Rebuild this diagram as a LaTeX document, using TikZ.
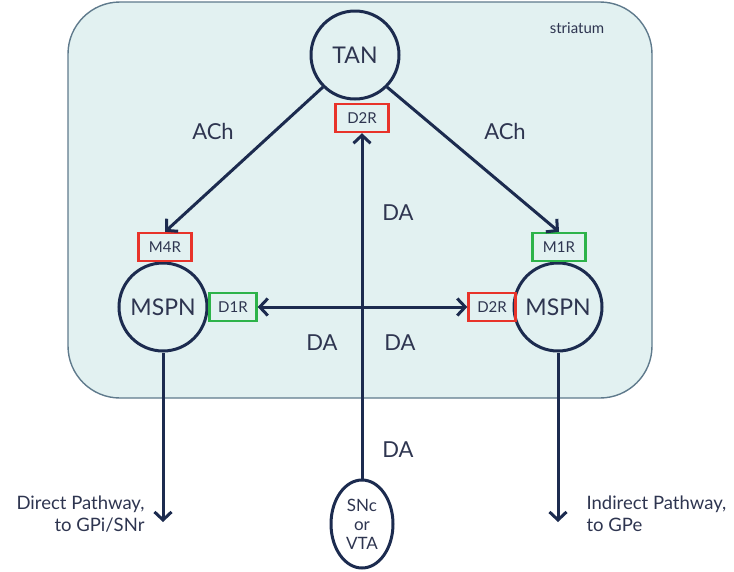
\documentclass[tikz,border=0pt]{standalone}
\usepackage{fontspec}
\setmainfont{Lato}
\usetikzlibrary{arrows.meta,shapes.geometric}
\definecolor{navy}{HTML}{1C2B4F}
\definecolor{boxfill}{HTML}{E2F1F1}
\definecolor{boxedge}{HTML}{5F7A8C}
\definecolor{rred}{HTML}{E8332A}
\definecolor{rgreen}{HTML}{2DB34A}
\definecolor{txt}{HTML}{2E3550}
\tikzset{
  neuron/.style={circle,draw=navy,line width=3pt,minimum size=88pt,inner sep=0pt,text=txt,font=\fontsize{23}{24}\selectfont},
  rec/.style={draw=#1,line width=2.4pt,minimum width=53pt,minimum height=28pt,inner sep=0pt,text=txt,font=\fontsize{15}{16}\selectfont},
  conn/.style={draw=navy,line width=3pt,-{Straight Barb[length=8pt,width=17pt,line width=3pt]}},
  lbl/.style={text=txt,font=\fontsize{22}{24}\selectfont},
  side/.style={text=txt,font=\fontsize{18.5}{22}\selectfont,align=#1}
}
\begin{document}
\begin{tikzpicture}[x=1pt,y=-1pt]
\useasboundingbox (0,0) rectangle (734,571);
\node[draw=boxedge,fill=boxfill,line width=1.4pt,rounded corners=52pt,minimum width=584pt,minimum height=396pt,inner sep=0pt] (str) at (360,200) {};
\node[text=txt,font=\fontsize{15}{16}\selectfont] (strl) at (577,28) {striatum};
\node[neuron] (tan) at (355,55) {TAN};
\node[neuron] (ml) at (163,307) {MSPN};
\node[neuron] (mr) at (558,307) {MSPN};
\node[ellipse,draw=navy,line width=3pt,minimum width=62pt,minimum height=88pt,inner sep=0pt,text=txt,align=center,font=\fontsize{17}{19}\selectfont] (snc) at (362,524) {SNc\\or\\VTA};
\node[rec=rred] (d2t) at (362,118) {D2R};
\node[rec=rred] (m4) at (165,247) {M4R};
\node[rec=rgreen,minimum width=47pt] (d1) at (233,307) {D1R};
\node[rec=rgreen] (m1) at (559,247) {M1R};
\node[rec=rred,minimum width=47pt] (d2r) at (492,307) {D2R};
\coordinate (ol) at (163,522);
\coordinate (or) at (558,522);
\draw[conn] (snc) -- (d2t);
\draw[conn,{Straight Barb[length=8pt,width=17pt,line width=3pt]}-{Straight Barb[length=8pt,width=17pt,line width=3pt]}] (d1) -- (d2r);
\draw[conn] (tan.-135) -- (m4.north);
\draw[conn] (tan.-45) -- (m1.north);
\draw[conn] (ml) -- (ol);
\draw[conn] (mr) -- (or);
\node[lbl] (a1) at (213,131) {ACh};
\node[lbl] (a2) at (505,131) {ACh};
\node[lbl] (da1) at (398,213) {DA};
\node[lbl] (da2) at (322,343) {DA};
\node[lbl] (da3) at (400,343) {DA};
\node[lbl] (da4) at (398,450) {DA};
\node[side=right,anchor=east] (dp) at (148,514) {Direct Pathway,\\to GPi/SNr};
\node[side=left,anchor=west] (ip) at (583,514) {Indirect Pathway,\\to GPe};
\end{tikzpicture}
\end{document}
